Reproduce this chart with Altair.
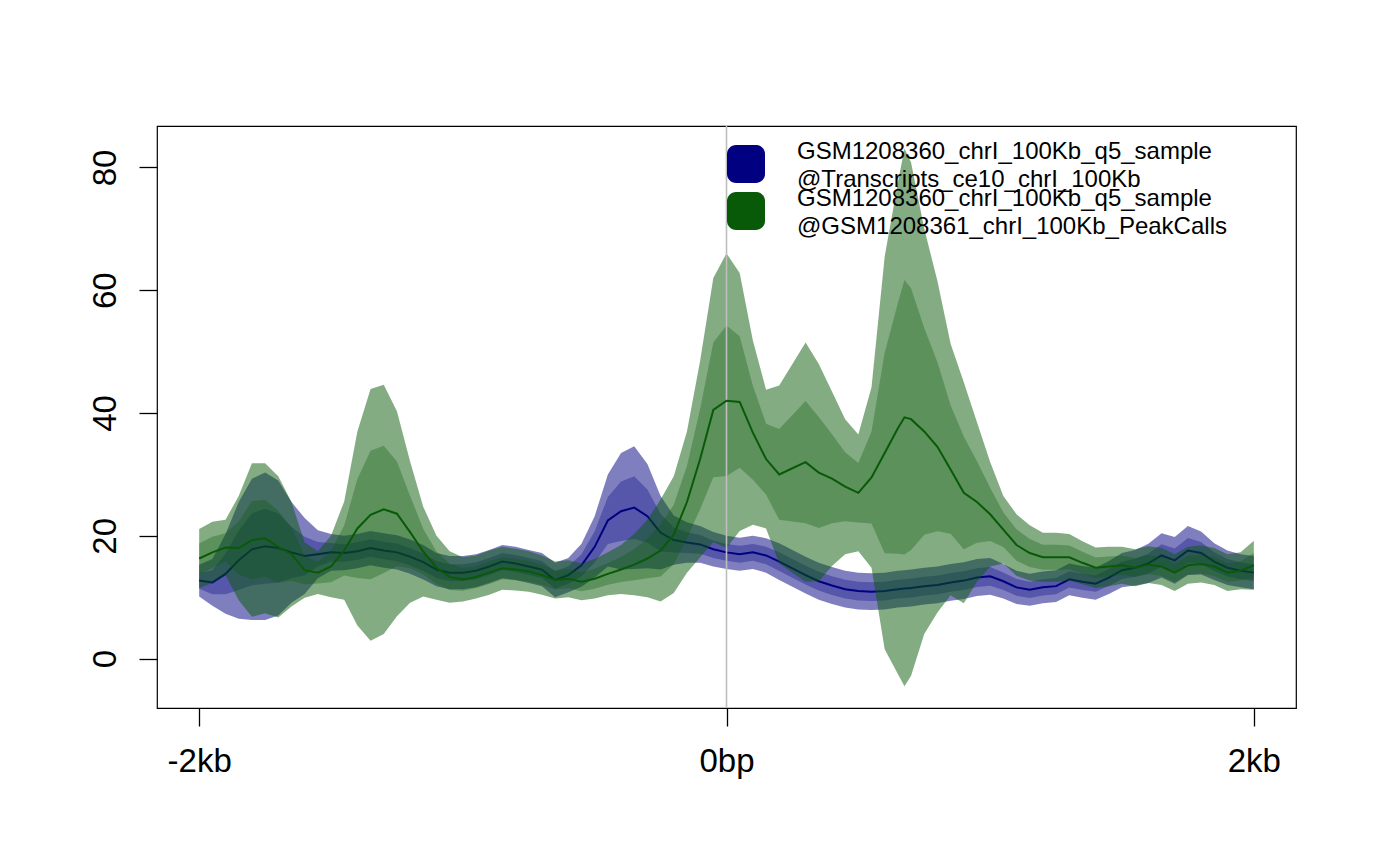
import altair as alt
import pandas as pd

# ---------------- data ----------------
positions = [-2000, -1950, -1900, -1850, -1800, -1750, -1700, -1650, -1600, -1550,
             -1500, -1450, -1400, -1350, -1300, -1250, -1200, -1150, -1100, -1050,
             -1000, -950, -900, -850, -800, -750, -700, -650, -600, -550,
             -500, -450, -400, -350, -300, -250, -200, -150, -100, -50,
             0, 50, 100, 150, 200, 250, 300, 350, 400, 450,
             500, 550, 600, 650, 675, 700, 750, 800, 850, 900,
             950, 1000, 1050, 1100, 1150, 1200, 1250, 1300, 1350, 1400,
             1450, 1500, 1550, 1600, 1650, 1700, 1750, 1800, 1850, 1900,
             1950, 2000]

blue_mean = [12.7, 12.4, 13.8, 16.0, 17.8, 18.3, 18.0, 17.3, 16.7, 17.0,
             17.3, 17.2, 17.5, 18.0, 17.6, 17.3, 16.6, 15.7, 14.5, 14.0,
             14.0, 14.3, 15.0, 15.8, 15.5, 15.0, 14.5, 12.8, 13.6, 15.2,
             18.2, 22.5, 24.0, 24.6, 23.2, 20.5, 19.3, 18.9, 18.6, 17.8,
             17.3, 17.0, 17.3, 16.8, 15.8, 14.7, 13.6, 12.6, 11.9, 11.3,
             11.0, 10.9, 11.0, 11.3, 11.4, 11.5, 11.8, 12.0, 12.4, 12.7,
             13.2, 13.4, 12.6, 11.6, 11.2, 11.6, 11.8, 12.9, 12.5, 12.2,
             13.2, 14.4, 14.8, 15.5, 16.8, 16.0, 17.6, 17.2, 15.8, 14.8,
             14.3, 14.0]

# half width of the 95% band (outer band); inner band is mean +/- standard error
blue_ci = [2.6, 3.8, 6.5, 9.5, 11.5, 12.0, 11.0, 8.2, 6.2, 3.9,
           3.0, 2.8, 2.8, 2.8, 2.8, 2.8, 2.8, 2.8, 2.7, 2.7,
           2.7, 2.7, 2.7, 2.7, 2.7, 2.7, 2.7, 2.8, 2.8, 3.5,
           5.0, 7.5, 9.5, 10.0, 8.5, 6.0, 4.0, 3.3, 3.0, 2.8,
           2.7, 2.7, 2.7, 2.8, 3.0, 3.0, 3.0, 3.0, 3.0, 3.0,
           3.0, 3.0, 3.0, 3.0, 3.0, 3.0, 3.0, 3.0, 3.0, 3.0,
           3.0, 3.0, 2.8, 2.7, 2.6, 2.6, 2.6, 2.6, 2.6, 2.6,
           2.7, 2.8, 2.9, 3.2, 3.6, 3.8, 4.0, 3.5, 3.0, 2.8,
           2.7, 2.7]

green_mean = [16.3, 17.3, 18.1, 18.0, 19.3, 19.6, 18.2, 17.0, 14.4, 14.0,
              15.0, 17.6, 21.2, 23.4, 24.3, 23.6, 20.6, 17.4, 14.8, 13.3,
              12.9, 13.3, 14.0, 14.7, 14.5, 14.2, 13.6, 12.8, 13.0, 12.5,
              13.0, 13.8, 14.5, 15.3, 16.3, 17.6, 20.2, 25.5, 32.5, 40.5,
              42.0, 41.8, 36.8, 32.5, 30.0, 31.0, 32.0, 30.3, 29.3, 28.0,
              27.0, 29.5, 33.5, 37.5, 39.3, 39.0, 37.0, 34.5, 30.8, 27.0,
              25.5, 23.5, 21.0, 18.5, 17.2, 16.5, 16.5, 16.5, 15.6, 14.8,
              15.0, 15.2, 14.8, 15.3, 15.0, 14.0, 15.2, 15.4, 15.0, 14.0,
              14.3, 15.2]

green_ci = [4.8, 5.0, 4.5, 8.5, 12.5, 12.2, 11.5, 8.5, 4.5, 3.5,
            5.0, 8.0, 15.8, 20.5, 20.3, 16.7, 11.5, 7.3, 5.2, 4.2,
            3.6, 3.5, 3.6, 3.5, 3.4, 3.3, 3.2, 3.0, 3.0, 3.0,
            3.2, 3.5, 4.0, 5.0, 6.3, 8.3, 9.5, 11.5, 16.0, 21.5,
            24.0, 21.0, 15.0, 11.3, 14.5, 17.0, 19.5, 17.7, 14.2, 11.0,
            9.5, 14.7, 32.0, 40.0, 43.8, 41.8, 33.0, 27.0, 20.5, 18.0,
            13.0, 8.5, 5.5, 5.0, 4.5, 4.0, 4.0, 3.8, 3.5, 3.3,
            3.2, 3.0, 3.0, 3.0, 3.0, 3.0, 3.0, 3.0, 3.0, 3.0,
            3.0, 4.0]

x_ticks = [-2000, 0, 2000]
x_tick_labels = ["-2kb", "0bp", "2kb"]
y_ticks = [0, 20, 40, 60, 80]

legend_labels = [
    ["GSM1208360_chrI_100Kb_q5_sample", "@Transcripts_ce10_chrI_100Kb"],
    ["GSM1208360_chrI_100Kb_q5_sample", "@GSM1208361_chrI_100Kb_PeakCalls"],
]
zero_line = [0]

BLUE = "#000080"
GREEN = "#085A08"
FONT = "Liberation Sans"

# ---------------- chart ----------------
label_expr = " : ".join(
    f"datum.value == {v} ? '{l}'" for v, l in zip(x_ticks[:-1], x_tick_labels[:-1])
) + f" : '{x_tick_labels[-1]}'"

x_scale = alt.Scale(domain=[-2160, 2160], nice=False, zero=False)
y_scale = alt.Scale(domain=[-8.05, 86.75], nice=False, zero=False)

x_axis = alt.Axis(values=x_ticks, labelExpr=label_expr, tickSize=18, tickWidth=1.3,
                  tickColor="black", domain=False, grid=False, labelFontSize=33,
                  labelFont=FONT, labelColor="black", labelBaseline="alphabetic",
                  labelPadding=45, labelFlush=False, labelOverlap=False, title=None)
y_axis = alt.Axis(values=y_ticks, tickSize=18, tickWidth=1.3, tickColor="black",
                  domain=False, grid=False, labelFontSize=33, labelFont=FONT,
                  labelColor="black", labelAngle=270, labelAlign="center",
                  labelBaseline="alphabetic", labelPadding=24, labelFlush=False,
                  labelOverlap=False, format="d", title=None)


def series_layers(mean, ci, color):
    df = pd.DataFrame({"pos": positions, "mean": mean, "ci": ci})
    base = alt.Chart(df).transform_calculate(
        lo_out="datum.mean - datum.ci",
        hi_out="datum.mean + datum.ci",
        lo_in="datum.mean - datum.ci / 1.96",
        hi_in="datum.mean + datum.ci / 1.96",
    )
    x = alt.X("pos:Q", scale=x_scale, axis=x_axis)
    outer = base.mark_area(color=color, opacity=0.5).encode(
        x=x, y=alt.Y("lo_out:Q", scale=y_scale, axis=y_axis), y2="hi_out:Q")
    inner = base.mark_area(color=color, opacity=0.32).encode(
        x=x, y=alt.Y("lo_in:Q", scale=y_scale, axis=y_axis), y2="hi_in:Q")
    line = base.mark_line(color=color, strokeWidth=2).encode(
        x=x, y=alt.Y("mean:Q", scale=y_scale, axis=y_axis))
    return outer, inner, line


b_out, b_in, b_line = series_layers(blue_mean, blue_ci, BLUE)
g_out, g_in, g_line = series_layers(green_mean, green_ci, GREEN)

vline = alt.Chart(pd.DataFrame({"pos": zero_line})).mark_rule(
    color="#BEBEBE", strokeWidth=1.6).encode(
    x=alt.X("pos:Q", scale=x_scale, axis=x_axis))

one = pd.DataFrame({"a": [0]})


def legend_item(color, lines, y_top):
    box = alt.Chart(one).mark_rect(color=color, cornerRadius=9).encode(
        x=alt.value(570), x2=alt.value(608),
        y=alt.value(y_top), y2=alt.value(y_top + 38))
    txt = alt.Chart(one).mark_text(
        text=lines, align="left", baseline="alphabetic", fontSize=24,
        font=FONT, color="black", lineHeight=27.5).encode(
        x=alt.value(640), y=alt.value(y_top + 14))
    return box, txt


l1b, l1t = legend_item(BLUE, legend_labels[0], 19)
l2b, l2t = legend_item(GREEN, legend_labels[1], 66)

chart = alt.layer(
    b_out, b_in, b_line, g_out, g_in, vline, g_line, l1b, l1t, l2b, l2t
).properties(
    width=1139, height=582,
    autosize=alt.AutoSizeParams(type="none"),
    padding={"left": 149, "top": 118, "right": 60, "bottom": 140},
    background="white",
).configure_view(stroke="black", strokeWidth=1.2)

chart.save("out.html", embed_options={"renderer": "svg", "actions": False})
